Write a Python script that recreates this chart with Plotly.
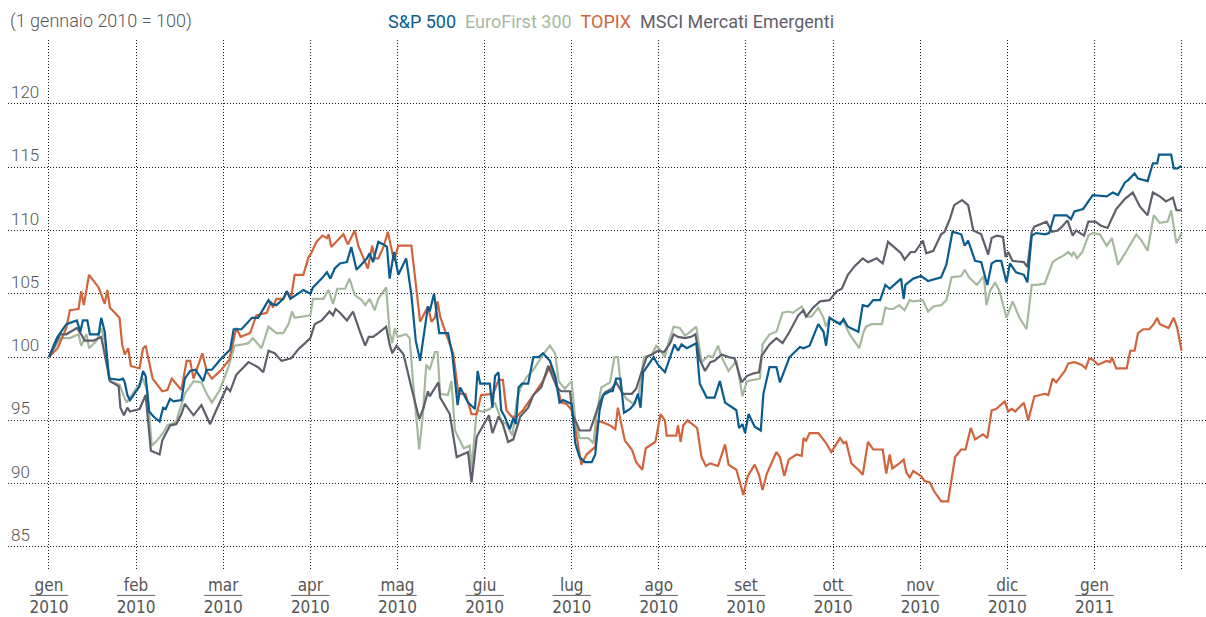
import plotly.graph_objects as go

# x positions are months since 1 Jan 2010 (each month drawn with equal width)
month_labels = ["gen", "feb", "mar", "apr", "mag", "giu", "lug", "ago",
                "set", "ott", "nov", "dic", "gen"]
year_labels = ["2010"] * 12 + ["2011"]

y_ticks = [85, 90, 95, 100, 105, 110, 115, 120, 125]

sp500_m = [0.00, 0.09, 0.16, 0.20, 0.32, 0.36, 0.39, 0.44, 0.47, 0.57, 0.60, 0.64, 0.69, 0.81, 0.85,
           0.87, 0.90, 0.93, 1.04, 1.08, 1.11, 1.15, 1.20, 1.27, 1.31, 1.34, 1.39, 1.43, 1.52, 1.56,
           1.62, 1.68, 1.77, 1.81, 1.87, 1.98, 2.08, 2.12, 2.21, 2.33, 2.40, 2.48, 2.52, 2.55, 2.61,
           2.69, 2.73, 2.77, 2.84, 2.92, 3.00, 3.03, 3.13, 3.19, 3.23, 3.28, 3.34, 3.42, 3.47, 3.53,
           3.61, 3.65, 3.68, 3.72, 3.78, 3.84, 3.88, 3.91, 3.96, 4.01, 4.10, 4.16, 4.21, 4.26, 4.35,
           4.37, 4.42, 4.48, 4.58, 4.63, 4.69, 4.72, 4.81, 4.89, 4.92, 4.95, 5.06, 5.09, 5.12, 5.16,
           5.19, 5.23, 5.29, 5.33, 5.36, 5.39, 5.43, 5.50, 5.56, 5.62, 5.67, 5.75, 5.81, 5.86, 5.90,
           6.00, 6.04, 6.09, 6.15, 6.23, 6.27, 6.32, 6.36, 6.44, 6.47, 6.51, 6.56, 6.60, 6.67, 6.72,
           6.76, 6.79, 6.82, 6.94, 6.99, 7.07, 7.18, 7.22, 7.26, 7.32, 7.43, 7.47, 7.55, 7.64, 7.70,
           7.76, 7.89, 7.92, 7.96, 7.99, 8.03, 8.10, 8.17, 8.20, 8.27, 8.35, 8.39, 8.50, 8.62, 8.66,
           8.73, 8.83, 8.89, 8.92, 8.96, 9.08, 9.12, 9.17, 9.29, 9.34, 9.40, 9.46, 9.54, 9.60, 9.65,
           9.78, 9.81, 9.83, 9.92, 10.01, 10.09, 10.24, 10.30, 10.37, 10.47, 10.51, 10.55, 10.63,
           10.70, 10.77, 10.82, 10.87, 10.93, 10.99, 11.03, 11.10, 11.19, 11.23, 11.28, 11.33, 11.43,
           11.48, 11.54, 11.68, 11.73, 11.77, 11.87, 11.93, 11.98, 12.14, 12.21, 12.27, 12.35, 12.39,
           12.46, 12.50, 12.61, 12.67, 12.72, 12.74, 12.88, 12.91, 12.95, 13.00]
sp500_v = [100.0, 101.5, 102.2, 102.6, 102.9, 102.0, 102.9, 102.9, 101.8, 101.8, 103.1, 102.0, 98.3, 98.2, 98.3,
           98.0, 97.0, 96.6, 97.7, 98.9, 98.5, 95.7, 95.3, 94.9, 96.0, 95.9, 96.7, 96.5, 96.6, 98.3,
           98.9, 99.0, 98.1, 99.0, 99.0, 99.9, 100.6, 102.2, 102.2, 103.1, 103.1, 104.0, 104.5, 104.2, 104.1,
           104.6, 105.2, 104.6, 104.9, 105.3, 105.0, 105.5, 106.2, 106.7, 106.2, 107.0, 107.4, 107.5, 108.7, 106.9,
           107.5, 107.8, 108.2, 107.5, 109.1, 108.9, 108.7, 106.2, 108.3, 106.5, 107.8, 104.9, 101.3, 99.7, 104.0,
           103.6, 105.0, 101.9, 101.9, 100.2, 96.2, 97.6, 96.4, 95.9, 98.9, 97.9, 97.9, 96.0, 98.5, 98.8,
           95.8, 95.3, 94.3, 95.2, 94.7, 97.6, 97.9, 97.9, 100.0, 100.0, 100.3, 99.7, 98.5, 96.4, 96.6,
           96.3, 93.2, 92.1, 91.7, 91.7, 92.3, 95.8, 97.0, 97.3, 97.3, 98.3, 98.3, 95.6, 95.9, 96.3,
           97.1, 96.0, 98.8, 100.0, 99.4, 98.8, 101.0, 100.5, 101.0, 100.7, 101.1, 97.9, 96.8, 96.8, 98.1,
           96.4, 95.8, 94.4, 94.7, 94.0, 95.5, 94.5, 94.2, 97.1, 99.2, 99.2, 98.0, 100.0, 100.8, 100.7,
           100.9, 102.6, 102.0, 100.9, 103.1, 102.6, 103.0, 102.4, 102.0, 104.1, 104.0, 104.5, 104.5, 105.7, 105.4,
           106.2, 104.6, 105.7, 106.2, 106.4, 106.0, 106.3, 107.3, 109.9, 109.7, 108.8, 109.2, 107.6,
           107.5, 105.7, 107.4, 107.6, 107.6, 105.9, 107.4, 106.7, 106.5, 105.9, 109.6, 109.8, 109.7,
           109.8, 111.2, 111.2, 110.9, 111.5, 111.7, 112.3, 112.8, 112.7, 113.0, 112.8, 113.8, 114.0,
           114.5, 114.1, 113.9, 115.3, 115.3, 116.0, 116.0, 114.9, 114.9, 115.1]

eurofirst_m = [0.00, 0.13, 0.24, 0.34, 0.37, 0.43, 0.46, 0.55, 0.60, 0.64, 0.70, 0.81, 0.89, 0.93, 1.01,
               1.08, 1.13, 1.18, 1.24, 1.31, 1.36, 1.46, 1.56, 1.66, 1.75, 1.81, 1.87, 1.96, 2.06, 2.13,
               2.23, 2.29, 2.34, 2.44, 2.52, 2.61, 2.69, 2.75, 2.79, 2.82, 3.00, 3.03, 3.15, 3.21, 3.26,
               3.31, 3.40, 3.45, 3.51, 3.59, 3.63, 3.68, 3.74, 3.78, 3.87, 3.91, 3.94, 3.97, 4.00, 4.10,
               4.14, 4.18, 4.25, 4.29, 4.33, 4.37, 4.43, 4.46, 4.49, 4.58, 4.62, 4.66, 4.76, 4.83, 4.85,
               4.91, 4.98, 5.06, 5.12, 5.19, 5.25, 5.32, 5.37, 5.41, 5.48, 5.56, 5.67, 5.75, 5.81, 5.85,
               5.92, 6.00, 6.04, 6.09, 6.19, 6.25, 6.28, 6.34, 6.44, 6.49, 6.53, 6.57, 6.63, 6.71, 6.77,
               6.83, 6.92, 6.97, 7.01, 7.07, 7.11, 7.17, 7.24, 7.30, 7.36, 7.43, 7.49, 7.57, 7.62, 7.68,
               7.72, 7.80, 7.89, 7.96, 8.01, 8.16, 8.19, 8.27, 8.35, 8.42, 8.49, 8.54, 8.64, 8.69, 8.75,
               8.83, 8.89, 8.92, 8.96, 9.04, 9.12, 9.19, 9.30, 9.35, 9.38, 9.44, 9.56, 9.60, 9.65, 9.69,
               9.76, 9.82, 9.88, 9.92, 10.03, 10.09, 10.15, 10.24, 10.30, 10.36, 10.47, 10.51, 10.56,
               10.65, 10.73, 10.76, 10.80, 10.86, 10.91, 10.99, 11.06, 11.14, 11.22, 11.28, 11.33, 11.43,
               11.52, 11.56, 11.64, 11.70, 11.74, 11.76, 11.80, 11.86, 11.93, 11.98, 12.06, 12.14, 12.20,
               12.27, 12.37, 12.48, 12.54, 12.61, 12.68, 12.75, 12.84, 12.88, 12.94, 13.00]
eurofirst_v = [100.0, 101.5, 101.5, 101.8, 100.9, 101.8, 100.7, 101.3, 102.3, 101.3, 98.1, 97.8, 96.4, 96.8, 97.5,
               98.3, 97.3, 93.0, 93.4, 94.0, 94.6, 94.9, 97.1, 98.1, 98.0, 97.1, 96.4, 97.4, 99.2, 100.9,
               101.0, 101.1, 101.5, 100.7, 102.4, 101.9, 101.9, 102.6, 103.6, 103.1, 103.3, 104.6, 104.6, 105.3, 104.2,
               105.4, 105.4, 106.2, 104.9, 104.5, 104.1, 104.6, 103.7, 104.6, 105.5, 102.0, 101.1, 102.3, 101.6, 101.8,
               101.5, 97.9, 92.7, 95.3, 99.4, 99.0, 100.4, 100.4, 97.1, 97.0, 98.1, 94.2, 92.8, 93.0, 91.1,
               95.8, 95.7, 95.9, 96.4, 95.0, 94.7, 93.8, 96.6, 97.5, 98.4, 99.0, 100.2, 100.9, 100.3, 98.1,
               97.5, 98.1, 95.0, 93.6, 93.6, 93.2, 95.3, 97.6, 98.0, 100.0, 100.0, 97.3, 96.7, 96.3, 97.1,
               100.0, 100.2, 100.9, 100.6, 100.0, 101.1, 102.4, 102.3, 101.7, 102.0, 102.4, 99.6, 100.1, 100.0, 100.9,
               100.0, 98.9, 99.7, 96.9, 98.1, 98.3, 101.0, 101.8, 102.0, 103.5, 103.6, 103.5, 104.0, 103.2, 103.2,
               103.9, 103.1, 102.4, 103.1, 102.7, 102.8, 101.8, 100.7, 102.0, 102.4, 102.6, 102.6, 103.9, 103.8, 103.8,
               104.1, 103.7, 104.5, 104.4, 104.5, 103.6, 104.0, 104.1, 104.5, 106.3, 106.4, 106.9, 106.3,
               105.7, 106.4, 104.1, 105.2, 105.9, 105.2, 103.1, 104.4, 103.1, 102.2, 105.7, 105.7, 105.8,
               107.5, 107.7, 108.0, 108.3, 108.0, 108.3, 107.8, 108.3, 109.6, 109.8, 109.7, 108.8, 109.4,
               107.3, 108.4, 109.7, 109.2, 108.4, 111.2, 110.6, 110.7, 111.6, 109.0, 109.8]

topix_m = [0.00, 0.10, 0.20, 0.24, 0.34, 0.37, 0.40, 0.46, 0.57, 0.64, 0.67, 0.70, 0.81, 0.84, 0.87,
           0.91, 0.94, 1.04, 1.08, 1.11, 1.19, 1.30, 1.36, 1.41, 1.52, 1.58, 1.62, 1.66, 1.76, 1.81,
           1.87, 1.98, 2.07, 2.10, 2.15, 2.20, 2.31, 2.38, 2.50, 2.55, 2.57, 2.61, 2.69, 2.73, 2.78,
           2.82, 2.92, 2.98, 3.01, 3.07, 3.14, 3.19, 3.21, 3.24, 3.32, 3.38, 3.43, 3.51, 3.55, 3.63,
           3.66, 3.71, 3.74, 3.78, 3.84, 3.89, 3.96, 4.01, 4.16, 4.26, 4.35, 4.39, 4.43, 4.46, 4.49,
           4.56, 4.64, 4.70, 4.78, 4.85, 4.91, 4.96, 5.10, 5.16, 5.21, 5.25, 5.31, 5.37, 5.44, 5.54,
           5.59, 5.67, 5.75, 5.81, 5.88, 5.94, 6.00, 6.05, 6.11, 6.17, 6.27, 6.30, 6.34, 6.44, 6.50,
           6.53, 6.61, 6.69, 6.74, 6.81, 6.85, 6.96, 7.02, 7.07, 7.09, 7.20, 7.22, 7.25, 7.28, 7.33,
           7.44, 7.49, 7.54, 7.59, 7.68, 7.76, 7.80, 7.89, 7.97, 8.02, 8.10, 8.15, 8.19, 8.24, 8.35,
           8.39, 8.44, 8.49, 8.58, 8.64, 8.66, 8.69, 8.73, 8.83, 8.92, 8.98, 9.08, 9.12, 9.15, 9.21,
           9.29, 9.34, 9.40, 9.46, 9.57, 9.61, 9.65, 9.68, 9.76, 9.81, 9.84, 9.88, 9.92, 10.01, 10.05,
           10.11, 10.16, 10.24, 10.32, 10.35, 10.40, 10.47, 10.52, 10.58, 10.63, 10.72, 10.77, 10.82,
           10.87, 10.97, 11.01, 11.05, 11.09, 11.19, 11.24, 11.31, 11.37, 11.43, 11.47, 11.52, 11.56,
           11.66, 11.70, 11.77, 11.85, 11.90, 11.94, 11.98, 12.04, 12.14, 12.18, 12.20, 12.25, 12.37,
           12.41, 12.46, 12.50, 12.56, 12.63, 12.68, 12.72, 12.75, 12.85, 12.91, 12.95, 13.00]
topix_v = [100.0, 100.7, 102.3, 103.7, 103.8, 105.2, 104.1, 106.5, 105.5, 104.2, 105.3, 103.9, 103.1, 101.0, 100.2,
           100.7, 99.3, 99.1, 100.7, 100.9, 98.3, 97.3, 97.4, 98.3, 97.4, 99.7, 99.7, 98.3, 100.3, 98.9,
           98.3, 99.0, 99.8, 100.7, 102.3, 101.6, 101.9, 103.3, 103.5, 104.4, 103.9, 104.6, 104.6, 105.2, 104.7,
           106.5, 106.5, 107.9, 108.2, 109.1, 109.6, 109.4, 109.7, 108.7, 109.3, 109.7, 108.9, 110.0, 108.8, 107.5,
           107.0, 108.8, 107.8, 107.8, 108.7, 109.9, 107.6, 108.8, 108.8, 102.8, 104.0, 102.8, 103.1, 104.4, 103.2,
           101.8, 100.3, 97.1, 97.1, 95.5, 95.5, 97.0, 97.1, 98.2, 98.2, 95.8, 95.3, 95.3, 95.8, 96.8,
           97.3, 98.1, 99.3, 98.4, 96.4, 96.3, 95.8, 94.0, 91.5, 92.3, 92.9, 94.9, 94.9, 94.6, 94.3,
           96.0, 93.4, 92.7, 91.7, 91.1, 92.8, 93.3, 95.5, 95.0, 93.8, 93.8, 94.6, 93.3, 94.6, 95.0,
           94.4, 92.1, 91.4, 91.6, 91.4, 93.1, 91.5, 91.1, 89.1, 90.6, 91.5, 90.7, 89.5, 90.8, 92.5,
           92.1, 90.6, 91.9, 92.3, 92.2, 93.6, 93.4, 94.0, 94.0, 93.2, 92.5, 93.6, 93.2, 93.3, 91.6,
           91.1, 90.7, 93.3, 92.7, 92.7, 90.8, 92.3, 91.2, 91.6, 91.9, 90.9, 90.5, 91.0, 90.6, 90.2,
           90.1, 89.4, 88.6, 88.6, 89.9, 92.1, 92.7, 92.7, 94.4, 93.5, 93.9, 93.6, 95.8,
           95.9, 96.5, 95.7, 95.9, 95.7, 96.4, 95.0, 96.9, 97.0, 97.1, 97.0, 98.3, 98.0,
           98.9, 99.5, 99.6, 99.4, 99.1, 99.9, 99.8, 99.4, 99.7, 99.6, 100.0, 99.1, 99.1,
           100.5, 100.5, 101.9, 102.2, 102.2, 102.6, 103.1, 102.6, 102.3, 103.1, 102.3, 100.5]

msci_em_m = [0.00, 0.13, 0.20, 0.32, 0.37, 0.41, 0.51, 0.60, 0.70, 0.80, 0.82, 0.86, 0.90, 0.93, 1.04,
             1.11, 1.17, 1.27, 1.30, 1.39, 1.46, 1.52, 1.56, 1.66, 1.75, 1.85, 1.92, 2.04, 2.08, 2.15,
             2.29, 2.40, 2.46, 2.52, 2.59, 2.67, 2.78, 2.86, 2.94, 3.00, 3.05, 3.13, 3.22, 3.26, 3.29,
             3.34, 3.42, 3.49, 3.57, 3.63, 3.67, 3.72, 3.78, 3.87, 3.91, 3.94, 3.99, 4.07, 4.16, 4.25,
             4.30, 4.35, 4.37, 4.47, 4.49, 4.60, 4.68, 4.81, 4.85, 4.91, 5.05, 5.09, 5.16, 5.21, 5.27,
             5.33, 5.41, 5.50, 5.56, 5.65, 5.73, 5.83, 5.88, 5.98, 6.01, 6.09, 6.21, 6.27, 6.32, 6.38,
             6.46, 6.51, 6.59, 6.69, 6.74, 6.80, 6.86, 6.92, 6.99, 7.06, 7.13, 7.17, 7.22, 7.30, 7.37,
             7.42, 7.47, 7.53, 7.59, 7.64, 7.72, 7.80, 7.87, 7.95, 8.01, 8.08, 8.15, 8.18, 8.27, 8.35,
             8.42, 8.50, 8.60, 8.66, 8.69, 8.77, 8.85, 8.96, 9.04, 9.10, 9.17, 9.25, 9.34, 9.40, 9.50,
             9.55, 9.57, 9.63, 9.71, 9.78, 9.82, 9.89, 9.94, 10.03, 10.07, 10.15, 10.24, 10.28, 10.34,
             10.39, 10.48, 10.55, 10.61, 10.70, 10.78, 10.82, 10.88, 10.95, 10.98, 11.01, 11.06, 11.19,
             11.23, 11.28, 11.31, 11.45, 11.51, 11.58, 11.64, 11.69, 11.75, 11.79, 11.88, 11.93, 12.01,
             12.07, 12.15, 12.25, 12.35, 12.44, 12.52, 12.61, 12.67, 12.75, 12.82, 12.90, 12.94, 13.00]
msci_em_v = [100.0, 101.8, 101.8, 102.3, 101.8, 101.3, 101.3, 101.6, 98.1, 97.7, 96.0, 95.4, 96.0, 95.7, 95.9,
             97.0, 92.6, 92.3, 93.4, 94.6, 94.7, 95.5, 96.3, 95.4, 96.2, 94.7, 95.8, 97.6, 97.3, 98.6,
             99.6, 99.2, 98.8, 100.5, 100.3, 99.7, 99.9, 100.6, 101.1, 101.5, 102.6, 102.9, 103.6, 103.3, 103.8,
             103.5, 102.9, 103.6, 102.0, 100.9, 101.6, 101.6, 101.9, 102.4, 101.0, 100.3, 100.9, 100.2, 97.6, 95.1,
             96.0, 97.3, 96.9, 98.0, 96.8, 95.5, 92.1, 92.5, 90.1, 93.7, 95.4, 94.0, 95.3, 94.7, 93.3,
             93.5, 95.3, 96.0, 97.0, 97.6, 99.3, 97.6, 97.3, 97.3, 95.5, 94.2, 94.2, 95.5, 96.4, 97.2,
             97.5, 98.0, 97.1, 97.1, 97.5, 98.8, 100.0, 100.2, 100.5, 100.4, 101.1, 101.8, 101.6, 101.5, 101.6,
             101.8, 99.8, 98.9, 99.6, 99.7, 100.2, 100.0, 99.9, 98.0, 98.5, 98.7, 98.8, 100.1, 101.0, 101.5,
             101.1, 102.0, 103.3, 103.7, 103.2, 103.9, 104.4, 104.5, 105.2, 105.4, 106.5, 107.2, 107.8, 107.5, 107.8,
             107.5, 107.4, 109.1, 108.6, 108.2, 107.7, 108.3, 108.3, 109.2, 108.2, 108.4, 109.7, 109.9, 110.9,
             112.0, 112.4, 112.0, 110.0, 109.7, 108.1, 109.4, 109.6, 109.5, 107.9, 108.3, 107.6, 107.5,
             107.1, 109.9, 110.3, 110.7, 109.9, 110.0, 110.4, 110.8, 109.6, 110.0, 109.6, 110.7, 110.7,
             110.4, 110.2, 111.7, 112.5, 113.0, 111.9, 111.2, 113.0, 112.7, 112.3, 112.6, 111.6, 111.6]

series = [
    ("S&P 500", sp500_m, sp500_v, "#0b5c8e"),
    ("EuroFirst 300", eurofirst_m, eurofirst_v, "#a6b99f"),
    ("TOPIX", topix_m, topix_v, "#d0643c"),
    ("MSCI Mercati Emergenti", msci_em_m, msci_em_v, "#5f5f6b"),
]

label_font = "Roboto, Liberation Sans, sans-serif"
narrow_font = "Liberation Sans Narrow, DejaVu Sans Condensed, Roboto Condensed, sans-serif"
text_grey = "#555555"
grid_grey = "#1a1a1a"

fig = go.Figure()

# draw in order so the grey/blue lines sit on top as in the print
for name in ["EuroFirst 300", "TOPIX", "MSCI Mercati Emergenti", "S&P 500"]:
    for n, xs, ys, color in series:
        if n == name:
            fig.add_trace(go.Scatter(x=xs, y=ys, mode="lines", name=n,
                                     line=dict(color=color, width=2.2), hoverinfo="skip"))

# month / year tick labels
tick_vals = list(range(len(month_labels) + 1))
tick_text = [f"{m}<br>{y}" for m, y in zip(month_labels, year_labels)] + [""]

fig.update_layout(
    width=1206,
    height=617,
    margin=dict(l=8, r=0, t=40, b=42),
    paper_bgcolor="white",
    plot_bgcolor="white",
    showlegend=False,
    font=dict(family=label_font, color=text_grey, size=16),
)

fig.update_xaxes(
    range=[-0.47, 13.28],
    tickmode="array",
    tickvals=tick_vals,
    ticktext=tick_text,
    tickfont=dict(family=narrow_font, size=17, color=text_grey),
    showgrid=True,
    gridcolor=grid_grey,
    griddash="1px,2px",
    gridwidth=1,
    zeroline=False,
    showline=False,
    ticks="",
    ticklabelstandoff=2,
)

fig.update_yaxes(
    range=[83.1, 125.05],
    tickmode="array",
    tickvals=y_ticks,
    ticktext=[str(v) for v in y_ticks[:-1]] + [""],
    ticklabelposition="inside top",
    tickfont=dict(family=label_font, size=17, color=text_grey, weight=300),
    showgrid=True,
    gridcolor=grid_grey,
    griddash="1px,2px",
    gridwidth=1,
    zeroline=False,
    showline=False,
    ticks="",
)

# fraction-like separator under each month name
for i in range(len(month_labels)):
    fig.add_shape(type="line", xref="x", yref="paper", x0=i - 0.22, x1=i + 0.22,
                  y0=-0.046, y1=-0.046, line=dict(color="#666666", width=1))

fig.add_annotation(
    text="(1 gennaio 2010 = 100)", xref="paper", yref="paper", x=0, y=1.0,
    xanchor="left", yanchor="bottom", yshift=6, showarrow=False,
    font=dict(family=label_font, size=18, color=text_grey, weight=300),
)

legend_html = "&nbsp;&nbsp;".join(
    f'<span style="color:{c}">{n}</span>' for n, _, _, c in series
)
fig.add_annotation(
    text=legend_html, xref="paper", yref="paper", x=0.503, y=1.0,
    xanchor="center", yanchor="bottom", yshift=6, showarrow=False,
    font=dict(family=label_font, size=18),
)

# the page is photographed from its top-left corner, so drop the default body margin
fig.write_html("out.html", config={"displayModeBar": False},
               post_script="document.body.style.margin='0px';")
